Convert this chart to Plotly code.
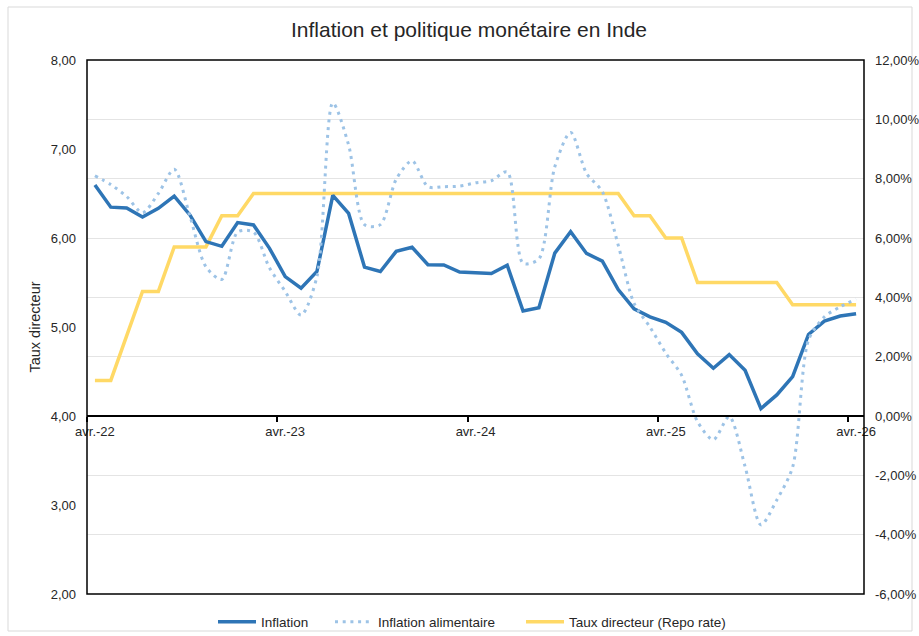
import plotly.graph_objects as go

# Monthly observations, avr.-22 .. avr.-26
months = [
    "avr.-22", "mai-22", "juin-22", "juil.-22", "août-22", "sept.-22", "oct.-22", "nov.-22", "déc.-22",
    "janv.-23", "févr.-23", "mars-23", "avr.-23", "mai-23", "juin-23", "juil.-23", "août-23", "sept.-23",
    "oct.-23", "nov.-23", "déc.-23", "janv.-24", "févr.-24", "mars-24", "avr.-24", "mai-24", "juin-24",
    "juil.-24", "août-24", "sept.-24", "oct.-24", "nov.-24", "déc.-24", "janv.-25", "févr.-25", "mars-25",
    "avr.-25", "mai-25", "juin-25", "juil.-25", "août-25", "sept.-25", "oct.-25", "nov.-25", "déc.-25",
    "janv.-26", "févr.-26", "mars-26", "avr.-26",
]

# Inflation (%), right axis
inflation = [
    7.79, 7.04, 7.01, 6.71, 7.00, 7.41, 6.77, 5.88, 5.72,
    6.52, 6.44, 5.66, 4.70, 4.31, 4.87, 7.44, 6.83, 5.02,
    4.87, 5.55, 5.69, 5.10, 5.09, 4.85, 4.83, 4.80, 5.08,
    3.54, 3.65, 5.49, 6.21, 5.48, 5.22, 4.26, 3.61, 3.34,
    3.16, 2.82, 2.10, 1.61, 2.07, 1.54, 0.25, 0.71, 1.33,
    2.75, 3.20, 3.37, 3.45,
]

# Inflation alimentaire (%), right axis
food = [
    8.10, 7.80, 7.40, 6.85, 7.50, 8.32, 6.72, 5.03, 4.60,
    6.20, 6.20, 5.00, 4.20, 3.40, 4.70, 10.55, 9.13, 6.45,
    6.45, 7.98, 8.60, 7.73, 7.73, 7.75, 7.86, 7.93, 8.23,
    5.15, 5.30, 8.40, 9.56, 8.18, 7.56, 5.76, 3.80, 3.00,
    2.12, 1.37, -0.19, -0.80, -0.02, -1.70, -3.67, -2.83, -1.72,
    2.56, 3.34, 3.68, 3.94,
]

# Taux directeur (Repo rate), left axis
repo = [
    4.40, 4.40, 4.90, 5.40, 5.40, 5.90, 5.90, 5.90, 6.25,
    6.25, 6.50, 6.50, 6.50, 6.50, 6.50, 6.50, 6.50, 6.50,
    6.50, 6.50, 6.50, 6.50, 6.50, 6.50, 6.50, 6.50, 6.50,
    6.50, 6.50, 6.50, 6.50, 6.50, 6.50, 6.50, 6.25, 6.25,
    6.00, 6.00, 5.50, 5.50, 5.50, 5.50, 5.50, 5.50, 5.25,
    5.25, 5.25, 5.25, 5.25,
]

left_ticks = [2, 3, 4, 5, 6, 7, 8]
left_ticktext = ["2,00", "3,00", "4,00", "5,00", "6,00", "7,00", "8,00"]
right_ticks = [-6, -4, -2, 0, 2, 4, 6, 8, 10, 12]
right_ticktext = ["-6,00%", "-4,00%", "-2,00%", "0,00%", "2,00%", "4,00%",
                  "6,00%", "8,00%", "10,00%", "12,00%"]
label_idx = [0, 12, 24, 36, 48]

x = list(range(len(months)))
FONT = "Liberation Sans, Arial, sans-serif"
TXT = "#262626"
W, H = 919, 636

fig = go.Figure()
fig.add_trace(go.Scatter(
    x=x, y=inflation, name="Inflation", yaxis="y2", mode="lines", legend="legend",
    line=dict(color="#2E75B6", width=3.5),
))
fig.add_trace(go.Scatter(
    x=x, y=food, name="Inflation alimentaire", yaxis="y2", mode="lines", legend="legend2",
    line=dict(color="#9DC3E6", width=3, dash="3px,4.7px", shape="spline", smoothing=0.8),
))
fig.add_trace(go.Scatter(
    x=x, y=repo, name="Taux directeur (Repo rate)", yaxis="y", mode="lines", legend="legend3",
    line=dict(color="#FFD966", width=3.5),
))


def leg(px):
    return dict(orientation="h", xref="container", yref="container", x=px / W, xanchor="left",
                y=(H - 622) / H, yanchor="middle", font=dict(size=13.5, color=TXT),
                bgcolor="rgba(0,0,0,0)", itemwidth=38, borderwidth=0)


fig.update_layout(
    width=W, height=H,
    margin=dict(l=87, r=55, t=60, b=42, autoexpand=False),
    paper_bgcolor="white", plot_bgcolor="white",
    font=dict(family=FONT, size=13, color=TXT),
    title=dict(text="Inflation et politique monétaire en Inde", x=469 / W, xanchor="center",
               xref="container", yref="container",
               y=1 - 30 / H, yanchor="middle", font=dict(size=21, color=TXT)),
    showlegend=True,
    legend=leg(213),
    legend2=leg(330),
    legend3=leg(521),
    xaxis=dict(
        range=[-0.5, len(months) - 0.5], anchor="free", position=1 / 3,
        showline=True, linecolor="black", linewidth=1.5,
        showgrid=False, zeroline=False,
        tickmode="array", tickvals=label_idx, ticktext=[months[i] for i in label_idx],
        ticks="", tickfont=dict(size=13, color=TXT), ticklabelstandoff=4,
        minor=dict(tickmode="array", tickvals=[i - 0.5 for i in label_idx],
                   ticks="outside", ticklen=5, tickcolor="black", tickwidth=1.5, showgrid=False),
    ),
    yaxis=dict(
        range=[2, 8], tickmode="array", tickvals=left_ticks, ticktext=left_ticktext,
        showgrid=False, zeroline=False, showline=False, ticks="",
        ticklabelstandoff=10,
        tickfont=dict(size=13, color=TXT),
        title=dict(text="Taux directeur", font=dict(size=14.5, color=TXT), standoff=6),
    ),
    yaxis2=dict(
        range=[-6, 12], overlaying="y", side="right", tickmode="array", tickvals=right_ticks,
        ticktext=right_ticktext,
        showgrid=True, gridcolor="#E4E4E4", gridwidth=1, zeroline=False, showline=False, ticks="",
        ticklabelstandoff=10,
        tickfont=dict(size=13, color=TXT),
    ),
    shapes=[
        dict(type="rect", xref="paper", yref="paper", x0=0, y0=0, x1=1, y1=1,
             line=dict(color="black", width=1.5), layer="above"),
        dict(type="rect", xref="paper", yref="paper",
             x0=(8 - 87) / 777, x1=(912 - 87) / 777, y0=(594 - 631) / 534, y1=(594 - 7) / 534,
             line=dict(color="#D9D9D9", width=1), layer="below"),
    ],
)

fig.write_html("out.html", config={"displayModeBar": False},
               post_script="document.body.style.margin='0px';")
